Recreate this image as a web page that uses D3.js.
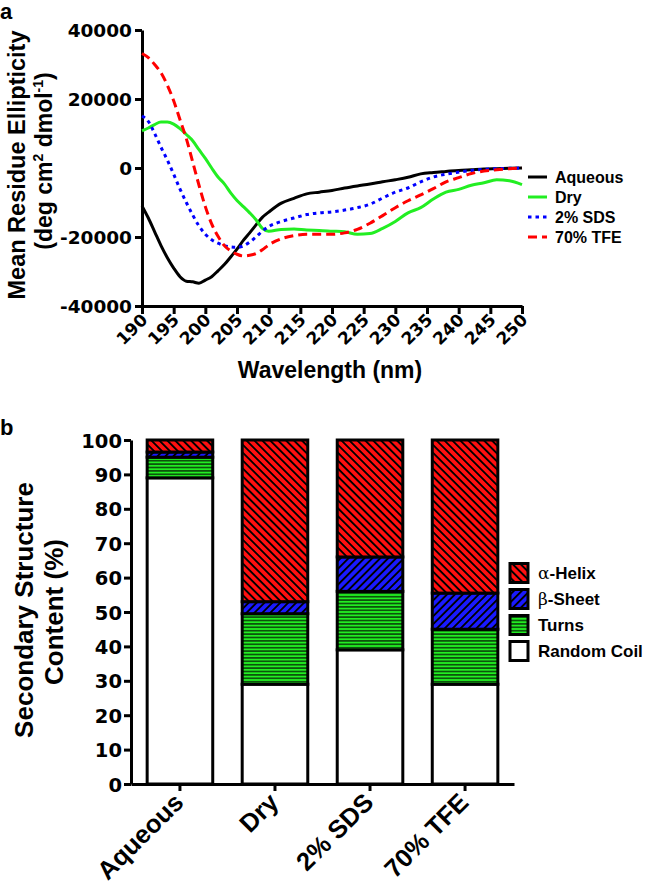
<!DOCTYPE html>
<html><head><meta charset="utf-8">
<script src="https://cdn.jsdelivr.net/npm/d3@7"></script>
<style>
html,body{margin:0;padding:0;background:#fff;}
svg{display:block;}
</style>
</head><body>
<svg id="chart" width="656" height="886"></svg>
<script>
// ---------- Data: panel a (CD spectra) ----------
const wavelengths = [190,191,192,193,194,195,196,197,198,199,200,201,202,203,204,205,206,207,208,209,210,212,214,216,218,220,222,224,226,228,230,232,234,236,238,240,242,244,246,248,250];
const aqueous = [-11000,-14500,-18500,-22500,-26000,-29000,-31500,-32800,-33000,-33400,-32500,-31500,-29800,-28000,-25800,-23500,-21000,-18800,-16500,-14300,-12800,-10200,-8800,-7500,-7000,-6500,-5800,-5200,-4650,-4000,-3400,-2700,-1700,-1300,-1000,-700,-500,-300,-200,-100,0];
const dry = [10800,11600,12600,13300,13300,12700,11400,9700,7900,5300,2800,0,-2600,-4600,-7200,-9400,-11200,-13000,-15000,-17500,-18300,-17800,-17700,-18000,-18100,-18300,-18500,-19200,-19000,-17500,-15500,-13000,-11500,-9000,-7000,-6200,-5000,-4300,-3400,-3700,-4800];
const sds = [15100,13500,10000,6000,2300,-1800,-6100,-10000,-13600,-16800,-19200,-20800,-21800,-22500,-22900,-23000,-22600,-21500,-20000,-18300,-17000,-15500,-14500,-13500,-13000,-12700,-12200,-11500,-10500,-8700,-7000,-5800,-4000,-2600,-1800,-1200,-700,-400,-200,-100,0];
const tfe = [33200,32000,30000,27600,24000,19500,14000,8500,1800,-5000,-11200,-16200,-19800,-22500,-24000,-25000,-25500,-25300,-24800,-23700,-22300,-20500,-19600,-19200,-19200,-19200,-18800,-17800,-16000,-13800,-11500,-9500,-7800,-6000,-4000,-2800,-1600,-900,-500,-200,0];
const seriesNames = ["Aqueous","Dry","2% SDS","70% TFE"];
const xTicksA = [190,195,200,205,210,215,220,225,230,235,240,245,250];
const yTicksA = [-40000,-20000,0,20000,40000];

// ---------- Data: panel b (secondary structure) ----------
const categories = ["Aqueous","Dry","2% SDS","70% TFE"];
const randomCoil = [89, 29, 39, 29];
const turns      = [6, 20.5, 17, 16];
const betaSheet  = [1.5, 3.5, 10, 10.5];
const alphaHelix = [3.5, 47, 34, 44.5];
const structureNames = ["α-Helix","β-Sheet","Turns","Random Coil"];
const yTicksB = [0,10,20,30,40,50,60,70,80,90,100];

const svg = d3.select("#chart");
const TXT = "'Liberation Sans', Arial, Helvetica, sans-serif";
const NUM = "'DejaVu Sans', 'Liberation Sans', sans-serif";

// ---------- patterns ----------
const defs = svg.append("defs");
function hatch(id, fill, angle, size, lw){
  const p = defs.append("pattern").attr("id", id).attr("patternUnits","userSpaceOnUse")
    .attr("width", size).attr("height", size).attr("patternTransform", `rotate(${angle})`);
  p.append("rect").attr("width", size).attr("height", size).attr("fill", fill);
  p.append("line").attr("x1", size/2).attr("x2", size/2).attr("y1", -1).attr("y2", size+1)
    .attr("stroke","#000").attr("stroke-width", lw);
}
hatch("pHelix", "#ff1010", -45, 5.6, 1.9);
hatch("pSheet", "#1a1aff", 45, 5.6, 1.9);
hatch("pTurns", "#22ee22", 90, 3.4, 1.1);
const fills = {alphaHelix:"url(#pHelix)", betaSheet:"url(#pSheet)", turns:"url(#pTurns)", randomCoil:"#ffffff"};

// ---------- Panel a ----------
const xA = d3.scaleLinear().domain([190,250]).range([142,522]);
const yA = d3.scaleLinear().domain([-40000,40000]).range([306,30]);
const gA = svg.append("g");

svg.append("text").attr("x",0).attr("y",19).text("a")
  .attr("font-family",TXT).attr("font-weight","bold").attr("font-size",22);

const minusFmt = d => (d<0 ? "-" : "") + Math.abs(d);
const axYA = gA.append("g").attr("transform","translate(142,0)")
  .call(d3.axisLeft(yA).tickValues(yTicksA).tickSize(7).tickSizeOuter(0).tickPadding(3).tickFormat(minusFmt));
const axXA = gA.append("g").attr("transform","translate(0,306)")
  .call(d3.axisBottom(xA).tickValues(xTicksA).tickSize(8).tickSizeOuter(0).tickFormat(d=>d));
[axYA, axXA].forEach(a=>{
  a.select(".domain").attr("stroke-width",3).attr("stroke","#000");
  a.selectAll(".tick line").attr("stroke-width",3).attr("stroke","#000");
});
axYA.selectAll("text").attr("font-family",NUM).attr("font-weight","bold").attr("font-size",18.5).attr("fill","#000").attr("dy","0.36em");
axXA.selectAll("text").attr("font-family",NUM).attr("font-weight","bold").attr("font-size",17).attr("fill","#000")
  .attr("text-anchor","end").attr("dy",null).attr("y",null)
  .attr("transform","translate(6,15) rotate(-45)");

const seriesData = [aqueous, dry, sds, tfe];
const lineStyles = [
  {color:"#000000", dash:null},
  {color:"#22ee22", dash:null},
  {color:"#0000ff", dash:"3.5,4"},
  {color:"#ff0000", dash:"9,5"}
];
const lineGen = d3.line().x(d=>xA(d[0])).y(d=>yA(d[1])).curve(d3.curveMonotoneX);
seriesData.forEach((vals,i)=>{
  gA.append("path").datum(wavelengths.map((w,j)=>[w, vals[j]]))
    .attr("d", lineGen).attr("fill","none")
    .attr("stroke", lineStyles[i].color).attr("stroke-width",3)
    .attr("stroke-dasharray", lineStyles[i].dash);
});

// legend a
const legA = svg.append("g");
seriesNames.forEach((n,i)=>{
  const yy = 177 + i*20;
  legA.append("line").attr("x1",528).attr("x2",547).attr("y1",yy).attr("y2",yy)
    .attr("stroke",lineStyles[i].color).attr("stroke-width",3).attr("stroke-dasharray",lineStyles[i].dash);
  legA.append("text").attr("x",555).attr("y",yy).attr("dy","0.36em").text(n)
    .attr("font-family",TXT).attr("font-weight","bold").attr("font-size",16);
});

// axis titles a
svg.append("text").attr("transform","translate(25,165) rotate(-90)")
  .attr("text-anchor","middle").attr("font-family",TXT).attr("font-weight","bold").attr("font-size",23.5)
  .text("Mean Residue Ellipticity");
const yt2 = svg.append("text").attr("transform","translate(52,161) rotate(-90)")
  .attr("text-anchor","middle").attr("font-family",TXT).attr("font-weight","bold").attr("font-size",23);
yt2.append("tspan").text("(deg cm");
yt2.append("tspan").text("2").attr("font-size",14).attr("dy",-9);
yt2.append("tspan").text(" dmol").attr("dy",9);
yt2.append("tspan").text("-1").attr("font-size",14).attr("dy",-9);
yt2.append("tspan").text(")").attr("dy",9);
svg.append("text").attr("x",330).attr("y",378).attr("text-anchor","middle")
  .attr("font-family",TXT).attr("font-weight","bold").attr("font-size",23).text("Wavelength (nm)");

// ---------- Panel b ----------
svg.append("text").attr("x",0).attr("y",435).text("b")
  .attr("font-family",TXT).attr("font-weight","bold").attr("font-size",22);

const xB = d3.scaleBand().domain(categories).range([131,514]).paddingInner(0.31).paddingOuter(0.17);
const yB = d3.scaleLinear().domain([0,100]).range([784,440]);
const gB = svg.append("g");

const rows = categories.map((c,i)=>({cat:c, randomCoil:randomCoil[i], turns:turns[i], betaSheet:betaSheet[i], alphaHelix:alphaHelix[i]}));
const keys = ["randomCoil","turns","betaSheet","alphaHelix"];
const stacked = d3.stack().keys(keys)(rows);
stacked.forEach(layer=>{
  gB.append("g").selectAll("rect").data(layer).join("rect")
    .attr("x", d=>xB(d.data.cat)).attr("width", xB.bandwidth())
    .attr("y", d=>yB(d[1])).attr("height", d=>yB(d[0])-yB(d[1]))
    .attr("fill", fills[layer.key]).attr("stroke","#000").attr("stroke-width",3);
});

const axYB = gB.append("g").attr("transform","translate(131,0)")
  .call(d3.axisLeft(yB).tickValues(yTicksB).tickSize(7).tickSizeOuter(0).tickPadding(2).tickFormat(d=>d));
const axXB = gB.append("g").attr("transform","translate(0,784)")
  .call(d3.axisBottom(xB).tickSize(7).tickSizeOuter(0));
[axYB, axXB].forEach(a=>{
  a.select(".domain").attr("stroke-width",3).attr("stroke","#000");
  a.selectAll(".tick line").attr("stroke-width",3).attr("stroke","#000");
});
axYB.selectAll("text").attr("font-family",NUM).attr("font-weight","bold").attr("font-size",19.5).attr("fill","#000").attr("dy","0.36em");
axXB.selectAll("text").attr("font-family",TXT).attr("font-weight","bold").attr("font-size",25.5).attr("fill","#000")
  .attr("text-anchor","end").attr("dy",null).attr("y",null)
  .attr("transform","translate(5,20) rotate(-45)");

// legend b
const legB = svg.append("g");
const legKeys = ["alphaHelix","betaSheet","turns","randomCoil"];
legKeys.forEach((k,i)=>{
  const yy = 573 + i*26;
  legB.append("rect").attr("x",510).attr("y",yy-9.5).attr("width",18).attr("height",19)
    .attr("fill",fills[k]).attr("stroke","#000").attr("stroke-width",3);
  const t = legB.append("text").attr("x",538).attr("y",yy).attr("dy","0.36em")
    .attr("font-family",TXT).attr("font-weight","bold").attr("font-size",17);
  const name = structureNames[i];
  if (name[0]==="α" || name[0]==="β"){
    t.append("tspan").text(name[0]).attr("font-weight","normal").attr("font-family","'DejaVu Serif', serif");
    t.append("tspan").text(name.slice(1));
  } else t.text(name);
});

// axis titles b
svg.append("text").attr("transform","translate(33,610) rotate(-90)")
  .attr("text-anchor","middle").attr("font-family",TXT).attr("font-weight","bold").attr("font-size",26)
  .text("Secondary Structure");
svg.append("text").attr("transform","translate(63,612) rotate(-90)")
  .attr("text-anchor","middle").attr("font-family",TXT).attr("font-weight","bold").attr("font-size",26)
  .text("Content (%)");
</script>
</body></html>
